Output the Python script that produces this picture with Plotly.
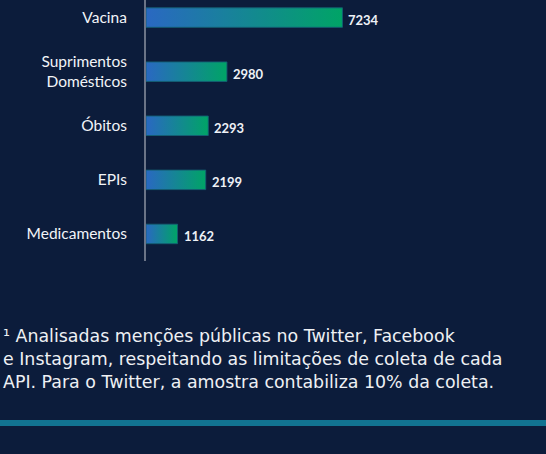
import plotly.graph_objects as go

categories = ["Medicamentos", "EPIs", "Óbitos", "Suprimentos<br>Domésticos", "Vacina"]
values = [1162, 2199, 2293, 2980, 7234]
value_labels = ["1162", "2199", "2293", "2980", "7234"]
positions = [0, 1, 2, 3, 4]
footnote_lines = [
    "¹ Analisadas menções públicas no Twitter, Facebook",
    "e Instagram, respeitando as limitações de coleta de cada",
    "API. Para o Twitter, a amostra contabiliza 10% da coleta.",
]

BG = "#0c1c3b"
HALF = 0.18

fig = go.Figure()
for cat, v, p in zip(categories, values, positions):
    fig.add_trace(go.Scatter(
        x=[0, v, v, 0, 0],
        y=[p - HALF, p - HALF, p + HALF, p + HALF, p - HALF],
        mode="lines",
        fill="toself",
        line=dict(color="rgba(20,95,115,0.9)", width=1),
        fillgradient=dict(type="horizontal",
                          colorscale=[[0, "#2a68c2"], [1, "#00a466"]]),
        hoverinfo="skip",
        showlegend=False,
    ))

for v, p, lab in zip(values, positions, value_labels):
    fig.add_annotation(
        x=v, y=p, xref="x", yref="y", text=lab, showarrow=False,
        xanchor="left", yanchor="middle", xshift=4, yshift=-2,
        font=dict(family="Lato", size=13, color="#eef1f6", weight="bold"),
    )

W_PLOT = 400
fig.update_layout(
    width=546, height=454,
    margin=dict(l=146, r=0, t=0, b=193),
    paper_bgcolor=BG, plot_bgcolor=BG,
    xaxis=dict(range=[0, W_PLOT / 0.02716], visible=False, showgrid=False, zeroline=False),
    yaxis=dict(range=[-0.5, 4.325], tickvals=positions, ticktext=categories,
               showgrid=False, zeroline=False, showline=True,
               linecolor="#6b7487", linewidth=2, ticks="",
               ticklabelstandoff=14,
               tickfont=dict(family="Lato", size=15.5, color="#f2f4f8")),
)

centers_px = [336, 359, 382]
for txt, c in zip(footnote_lines, centers_px):
    fig.add_annotation(
        text=txt, xref="paper", yref="paper",
        x=(1 - 146) / W_PLOT, y=(261 - c) / 261,
        xanchor="left", yanchor="middle", showarrow=False,
        font=dict(family="DejaVu Sans", size=17.4, color="#eef0f4"),
    )

fig.add_shape(type="rect", xref="paper", yref="paper",
              x0=-0.5, x1=1.05, y0=(261 - 426) / 261, y1=(261 - 420) / 261,
              fillcolor="#127391", line=dict(width=0), layer="above")

fig.write_html("out.html")
